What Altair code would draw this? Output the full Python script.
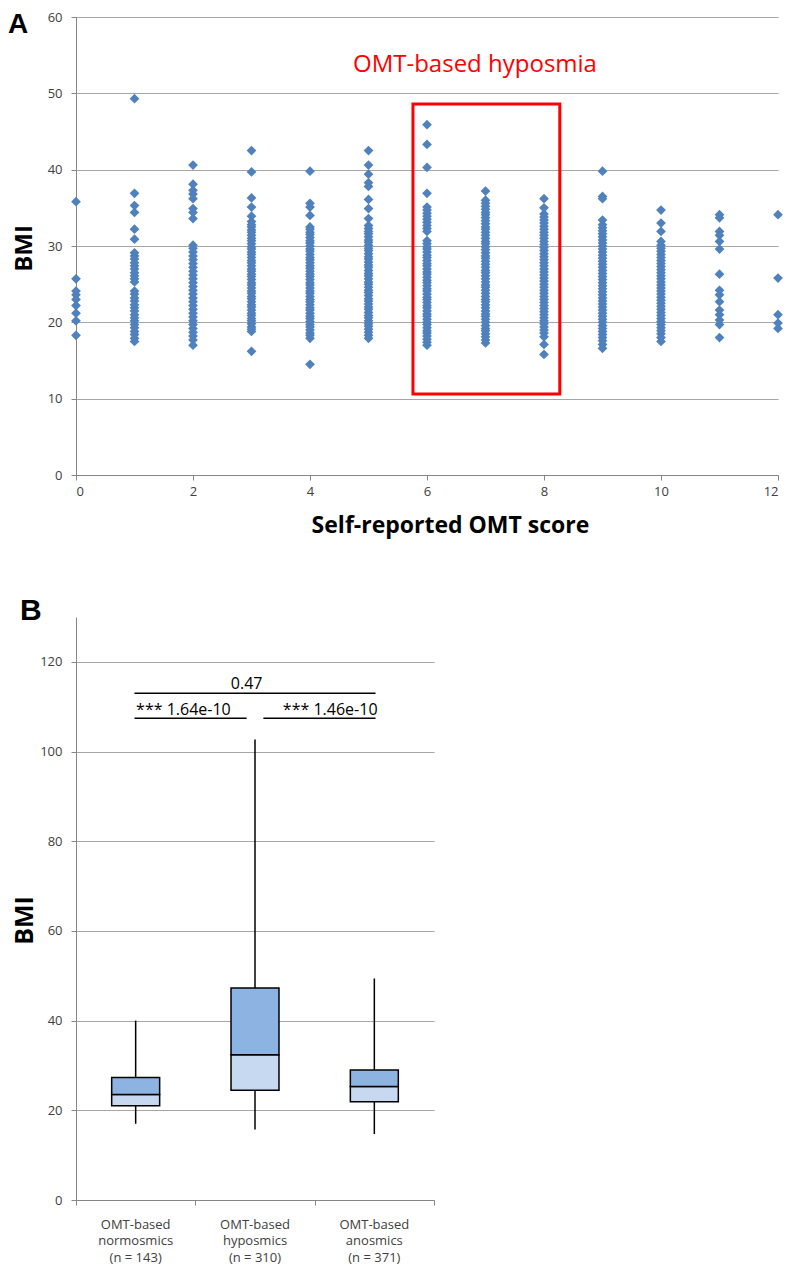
import altair as alt
import pandas as pd

# ---------------- Panel A data ----------------
omt_scores = list(range(13))
bmi_s0 = [35.8, 25.7, 24.1, 23.6, 23.0, 22.2, 21.2, 20.2, 18.3]
bmi_s1 = [49.3, 36.9, 35.3, 34.4, 32.2, 30.9, 29.1, 28.7, 28.3, 27.8, 27.4, 27.0, 26.5,
          26.1, 25.7, 25.3, 24.1, 23.7, 23.2, 22.8, 22.3, 21.9, 21.5, 21.0, 20.6, 20.2,
          19.7, 19.3, 18.8, 18.4, 17.9, 17.5]
bmi_s2 = [40.6, 38.1, 37.3, 36.8, 36.2, 34.9, 34.4, 33.6, 30.1, 29.7, 29.2, 28.7, 28.2,
          27.7, 27.2, 26.7, 26.2, 25.7, 25.2, 24.7, 24.2, 23.7, 23.2, 22.7, 22.2, 21.7,
          21.2, 20.7, 20.2, 19.7, 19.2, 18.7, 18.2, 17.7, 17.0]
bmi_s3 = [42.5, 39.7, 36.3, 35.1, 33.9, 33.2, 32.8, 32.5, 32.1, 31.8, 31.4, 31.0, 30.7,
          30.3, 29.9, 29.6, 29.2, 28.9, 28.5, 28.1, 27.8, 27.4, 27.0, 26.7, 26.3, 26.0,
          25.6, 25.2, 24.9, 24.5, 24.1, 23.8, 23.4, 23.1, 22.7, 22.3, 22.0, 21.6, 21.2,
          20.9, 20.5, 20.2, 19.8, 19.4, 19.1, 18.8, 16.2]
bmi_s4 = [39.8, 35.6, 35.1, 34.0, 32.5, 32.2, 31.8, 31.5, 31.1, 30.7, 30.4, 30.0, 29.6,
          29.3, 28.9, 28.5, 28.2, 27.8, 27.4, 27.1, 26.7, 26.3, 26.0, 25.6, 25.2, 24.9,
          24.5, 24.1, 23.8, 23.4, 23.0, 22.7, 22.3, 21.9, 21.6, 21.2, 20.8, 20.5, 20.1,
          19.7, 19.4, 19.0, 18.6, 18.3, 17.9, 14.5]
bmi_s5 = [42.5, 40.6, 39.4, 38.3, 37.8, 36.1, 34.9, 33.6, 32.7, 32.3, 31.9, 31.6, 31.2,
          30.8, 30.5, 30.1, 29.7, 29.4, 29.0, 28.6, 28.3, 27.9, 27.5, 27.2, 26.8, 26.4,
          26.1, 25.7, 25.3, 25.0, 24.6, 24.2, 23.9, 23.5, 23.1, 22.8, 22.4, 22.0, 21.7,
          21.3, 20.9, 20.6, 20.2, 19.8, 19.5, 19.1, 18.7, 18.3, 17.9]
bmi_s6 = [45.9, 43.3, 40.3, 36.9, 35.1, 34.7, 34.3, 33.9, 33.5, 33.1, 32.7, 32.3, 31.9,
          30.7, 30.3, 29.9, 29.6, 29.2, 28.8, 28.5, 28.1, 27.7, 27.4, 27.0, 26.6, 26.3,
          25.9, 25.5, 25.2, 24.8, 24.4, 24.1, 23.7, 23.3, 23.0, 22.6, 22.2, 21.9, 21.5,
          21.1, 20.8, 20.4, 20.0, 19.7, 19.3, 18.9, 18.6, 18.2, 17.8, 17.4, 17.0]
bmi_s7 = [37.2, 36.0, 35.6, 35.2, 34.8, 34.4, 34.1, 33.7, 33.3, 32.9, 32.5, 32.2, 31.8,
          31.4, 31.0, 30.6, 30.3, 29.9, 29.5, 29.1, 28.7, 28.4, 28.0, 27.6, 27.2, 26.8,
          26.5, 26.1, 25.7, 25.3, 24.9, 24.6, 24.2, 23.8, 23.4, 23.0, 22.7, 22.3, 21.9,
          21.5, 21.1, 20.8, 20.4, 20.0, 19.6, 19.2, 18.9, 18.5, 18.1, 17.7, 17.3]
bmi_s8 = [36.2, 35.0, 34.2, 33.8, 33.4, 33.0, 32.6, 32.2, 31.8, 31.4, 31.0, 30.6, 30.2,
          29.8, 29.4, 29.0, 28.6, 28.2, 27.8, 27.4, 27.0, 26.6, 26.2, 25.8, 25.4, 25.0,
          24.6, 24.2, 23.8, 23.4, 23.0, 22.6, 22.2, 21.8, 21.4, 21.0, 20.6, 20.2, 19.8,
          19.4, 19.0, 18.6, 18.1, 17.1, 15.8]
bmi_s9 = [39.8, 36.5, 36.2, 33.4, 32.8, 32.4, 32.0, 31.6, 31.2, 30.8, 30.4, 30.0, 29.6,
          29.2, 28.8, 28.4, 28.0, 27.6, 27.2, 26.8, 26.4, 26.0, 25.6, 25.2, 24.8, 24.4,
          24.0, 23.6, 23.2, 22.8, 22.4, 22.0, 21.6, 21.2, 20.8, 20.4, 20.0, 19.6, 19.2,
          18.8, 18.4, 18.0, 17.6, 17.1, 16.6]
bmi_s10 = [34.7, 33.0, 31.9, 30.6, 30.1, 29.7, 29.3, 28.9, 28.5, 28.1, 27.7, 27.3, 26.9,
           26.5, 26.1, 25.7, 25.3, 24.9, 24.5, 24.1, 23.7, 23.3, 22.9, 22.5, 22.1, 21.7,
           21.3, 20.9, 20.5, 20.1, 19.7, 19.3, 18.9, 18.5, 18.0, 17.5]
bmi_s11 = [34.1, 33.7, 31.9, 31.4, 30.6, 29.6, 26.3, 24.2, 23.6, 22.7, 21.6, 21.0, 20.3,
           19.7, 18.0]
bmi_s12 = [34.1, 25.8, 21.0, 19.9, 19.2]
bmi_by_score = [bmi_s0, bmi_s1, bmi_s2, bmi_s3, bmi_s4, bmi_s5, bmi_s6, bmi_s7,
                bmi_s8, bmi_s9, bmi_s10, bmi_s11, bmi_s12]

hypo_box_x = [5.76]
hypo_box_x2 = [8.27]
hypo_box_y = [10.6]
hypo_box_y2 = [48.6]
hypo_label = ["OMT-based hyposmia"]
hypo_label_x = [6.82]
hypo_label_y = [52.8]

# ---------------- Panel B data ----------------
group_names = ["normosmics", "hyposmics", "anosmics"]
group_n = [143, 310, 371]
whisker_low = [17.0, 15.7, 14.7]
box_q1 = [21.0, 24.5, 21.9]
box_median = [23.5, 32.4, 25.3]
box_q3 = [27.3, 47.3, 29.0]
whisker_high = [40.0, 102.7, 49.4]

sig_line_x1 = [0.49, 0.49, 1.57]
sig_line_x2 = [2.51, 1.43, 2.51]
sig_line_y = [113.0, 107.4, 107.4]
sig_text = ["0.47", "*** 1.64e-10", "*** 1.46e-10"]
sig_text_x = [1.43, 0.90, 2.13]
sig_text_y = [115.1, 109.3, 109.3]

# ---------------- build tables ----------------
rows = []
for s, vals in zip(omt_scores, bmi_by_score):
    for v in vals:
        rows.append({"score": s, "bmi": v})
scatter_df = pd.DataFrame(rows)

box_df = pd.DataFrame({
    "group": group_names, "n": group_n, "lo": whisker_low, "q1": box_q1,
    "med": box_median, "q3": box_q3, "hi": whisker_high,
})
box_df["pos"] = [i + 0.5 for i in range(len(group_names))]
box_df["label"] = ["OMT-based\n" + g + "\n(n = " + str(n) + ")"
                   for g, n in zip(group_names, group_n)]

sig_lines_df = pd.DataFrame({"x1": sig_line_x1, "x2": sig_line_x2, "y": sig_line_y})
sig_text_df = pd.DataFrame({"t": sig_text, "x": sig_text_x, "y": sig_text_y})

FONT = "Open Sans"
AX = dict(domainColor="#868686", tickColor="#868686", gridColor="#A6A6A6",
          labelFont=FONT, labelFontSize=13, labelColor="#404040", tickSize=5,
          titleFont=FONT, titleFontWeight="bold", titleColor="#000000")

# ---------------- Panel A ----------------
WA, HA = 702, 458
xA = alt.Scale(domain=[0, 12], nice=False, zero=False)
yA = alt.Scale(domain=[0, 60], nice=False)
xAxisA = alt.Axis(
    values=[0, 2, 4, 6, 8, 10, 12], grid=False, labelPadding=5,
    title="Self-reported OMT score", titleFontSize=23, titleX=374, titleY=50,
    titleBaseline="middle", titleAlign="center", **AX)
yAxisA = alt.Axis(
    values=[0, 10, 20, 30, 40, 50, 60], grid=True, labelPadding=9,
    title="BMI", titleFontSize=24, titleX=-51.5, titleY=231, titleAngle=270,
    titleBaseline="middle", titleAlign="center", **AX)

pts = alt.Chart(scatter_df).mark_point(
    shape="diamond", filled=True, size=95, color="#4F81BD", opacity=1, strokeWidth=0
).encode(
    x=alt.X("score:Q", scale=xA, axis=xAxisA),
    y=alt.Y("bmi:Q", scale=yA, axis=yAxisA),
)

rect_df = pd.DataFrame({"x": hypo_box_x, "x2": hypo_box_x2, "y": hypo_box_y, "y2": hypo_box_y2})
red_rect = alt.Chart(rect_df).mark_rect(
    fillOpacity=0, stroke="#FF0000", strokeWidth=3
).encode(
    x=alt.X("x:Q", scale=xA, axis=xAxisA), x2="x2:Q",
    y=alt.Y("y:Q", scale=yA, axis=yAxisA), y2="y2:Q",
)

lab_df = pd.DataFrame({"t": hypo_label, "x": hypo_label_x, "y": hypo_label_y})
red_text = alt.Chart(lab_df).mark_text(
    font=FONT, fontSize=24, color="#FF0000", align="center", baseline="alphabetic"
).encode(
    x=alt.X("x:Q", scale=xA, axis=xAxisA), y=alt.Y("y:Q", scale=yA, axis=yAxisA), text="t:N"
)

a_text = alt.Chart(pd.DataFrame({"t": ["A"]})).mark_text(
    font="Liberation Sans", fontSize=28, fontWeight="bold", color="#000000",
    align="left", baseline="top"
).encode(x=alt.value(-68), y=alt.value(-6), text="t:N")

panel_a = alt.layer(pts, red_rect, red_text, a_text).properties(width=WA, height=HA)

# ---------------- Panel B ----------------
WB, HB = 358, 583
xB = alt.Scale(domain=[0, 3], nice=False, zero=False)
yB = alt.Scale(domain=[0, 130], nice=False)
HALF = 0.201
xAxisB = alt.Axis(values=[0, 1, 2, 3], labels=False, grid=False, title=None, **AX)
yAxisB = alt.Axis(
    values=[0, 20, 40, 60, 80, 100, 120], grid=True, labelPadding=9,
    title="BMI", titleFontSize=25, titleX=-51.5, titleY=303, titleAngle=270,
    titleBaseline="middle", titleAlign="center", **AX)

base_b = alt.Chart(box_df)

whisk = base_b.mark_rule(color="#000000", strokeWidth=1.5).encode(
    x=alt.X("pos:Q", scale=xB, axis=xAxisB),
    y=alt.Y("lo:Q", scale=yB, axis=yAxisB),
    y2="hi:Q",
)

lower = base_b.transform_calculate(
    xl=f"datum.pos - {HALF}", xr=f"datum.pos + {HALF}"
).mark_rect(fill="#C6D9F1", stroke="#000000", strokeWidth=1.5).encode(
    x=alt.X("xl:Q", scale=xB, axis=xAxisB), x2="xr:Q",
    y=alt.Y("q1:Q", scale=yB, axis=yAxisB), y2="med:Q",
)
upper = base_b.transform_calculate(
    xl=f"datum.pos - {HALF}", xr=f"datum.pos + {HALF}"
).mark_rect(fill="#8DB3E2", stroke="#000000", strokeWidth=1.5).encode(
    x=alt.X("xl:Q", scale=xB, axis=xAxisB), x2="xr:Q",
    y=alt.Y("med:Q", scale=yB, axis=yAxisB), y2="q3:Q",
)

cat_text = base_b.mark_text(
    font=FONT, fontSize=13, color="#404040", align="center", baseline="alphabetic",
    lineBreak="\n", lineHeight=16.5
).encode(
    x=alt.X("pos:Q", scale=xB, axis=xAxisB), y=alt.value(HB + 28.9), text="label:N"
)

sig_rules = alt.Chart(sig_lines_df).mark_rule(color="#000000", strokeWidth=1.5).encode(
    x=alt.X("x1:Q", scale=xB, axis=xAxisB), x2="x2:Q",
    y=alt.Y("y:Q", scale=yB, axis=yAxisB),
)
sig_texts = alt.Chart(sig_text_df).mark_text(
    font=FONT, fontSize=16, color="#000000", align="center", baseline="middle"
).encode(
    x=alt.X("x:Q", scale=xB, axis=xAxisB), y=alt.Y("y:Q", scale=yB, axis=yAxisB), text="t:N"
)

b_text = alt.Chart(pd.DataFrame({"t": ["B"]})).mark_text(
    font="Liberation Sans", fontSize=30, fontWeight="bold", color="#000000",
    align="left", baseline="top"
).encode(x=alt.value(-56), y=alt.value(-21), text="t:N")

panel_b = alt.layer(whisk, lower, upper, sig_rules, sig_texts, cat_text, b_text).properties(
    width=WB, height=HB)

chart = alt.concat(panel_a, panel_b, columns=1, align="none", spacing=59).properties(
    padding={"left": 0, "top": 3, "right": 0, "bottom": 0}
).configure_view(stroke=None)

chart.save("out.html", embed_options={"renderer": "svg", "actions": False})
